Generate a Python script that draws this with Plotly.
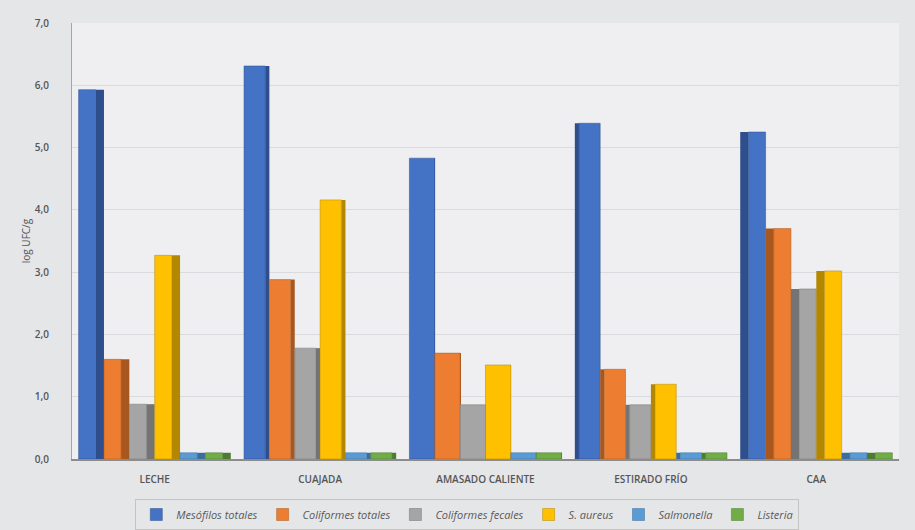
import plotly.graph_objects as go

# Microbiological counts (log UFC/g) along the cheese-making process
categories = ["LECHE", "CUAJADA", "AMASADO CALIENTE", "ESTIRADO FRÍO", "CAA"]

mesofilos_totales = [5.93, 6.31, 4.83, 5.39, 5.25]
coliformes_totales = [1.60, 2.88, 1.70, 1.44, 3.70]
coliformes_fecales = [0.88, 1.78, 0.87, 0.87, 2.73]
s_aureus = [3.27, 4.16, 1.51, 1.20, 3.02]
salmonella = [0.10, 0.10, 0.10, 0.10, 0.10]
listeria = [0.10, 0.10, 0.10, 0.10, 0.10]

series = [
    ("Mesófilos totales", mesofilos_totales, "#4472C4", "#2E4F8C"),
    ("Coliformes totales", coliformes_totales, "#ED7D31", "#A8581F"),
    ("Coliformes fecales", coliformes_fecales, "#A5A5A5", "#747474"),
    ("S. aureus", s_aureus, "#FFC000", "#B38700"),
    ("Salmonella", salmonella, "#5B9BD5", "#3A6E9E"),
    ("Listeria", listeria, "#70AD47", "#4E7A31"),
]

y_ticks = [0, 1, 2, 3, 4, 5, 6, 7]

# Pseudo-3D look: each bar gets a darker side face whose width and side
# depend on where the category sits relative to the centre of the view.
group_span = 0.92
slot = group_span / len(series)
max_depth = 0.05
n_cat = len(categories)
mid = (n_cat - 1) / 2

fig = go.Figure()
for i, (name, values, color, side_color) in enumerate(series):
    front_off, front_w, side_off, side_w = [], [], [], []
    for k in range(n_cat):
        start = -group_span / 2 + i * slot
        d = max_depth * (mid - k) / mid
        if d >= 0:
            front_off.append(start)
            front_w.append(slot - d)
            side_off.append(start + slot - d)
            side_w.append(max(d, 1e-4))
        else:
            side_off.append(start)
            side_w.append(-d)
            front_off.append(start - d)
            front_w.append(slot + d)
    fig.add_trace(go.Bar(
        name=name + " (lado)",
        x=categories,
        y=values,
        offset=side_off,
        width=side_w,
        marker=dict(color=side_color, line=dict(width=0)),
        showlegend=False,
        hoverinfo="skip",
    ))
    fig.add_trace(go.Bar(
        name=name,
        x=categories,
        y=values,
        offset=front_off,
        width=front_w,
        marker=dict(color=color, line=dict(color=side_color, width=0.5)),
    ))

fig.update_layout(
    width=915,
    height=530,
    barmode="overlay",
    separators=",.",
    paper_bgcolor="#e5e6e8",
    plot_bgcolor="#efeff1",
    margin=dict(l=72, r=16, t=23, b=71),
    font=dict(family="Open Sans, Liberation Sans, sans-serif", color="#595959"),
    xaxis=dict(
        showgrid=False,
        showline=True,
        linecolor="#8c8c8c",
        linewidth=2,
        tickfont=dict(size=10, color="#555555", weight=600),
        ticks="",
        ticklabelstandoff=10,
    ),
    yaxis=dict(
        range=[0, 7],
        tickvals=y_ticks,
        tickformat=".1f",
        showgrid=True,
        gridcolor="#dadbde",
        gridwidth=1,
        zeroline=False,
        showline=True,
        linecolor="#a6a6a6",
        linewidth=1,
        tickfont=dict(size=10, color="#555555", weight=600),
        ticks="",
        ticklabelstandoff=20,
        title=dict(text="log UFC/g", font=dict(size=10, color="#555555"), standoff=2),
    ),
    legend=dict(
        orientation="h",
        xref="paper",
        x=0.478,
        xanchor="center",
        yref="container",
        y=0.0,
        yanchor="bottom",
        font=dict(size=11, color="#595959", style="italic"),
        bgcolor="rgba(0,0,0,0)",
        bordercolor="#c4c4c4",
        borderwidth=1,
        itemwidth=30,
        tracegroupgap=0,
    ),
)

fig.write_html("out.html")
